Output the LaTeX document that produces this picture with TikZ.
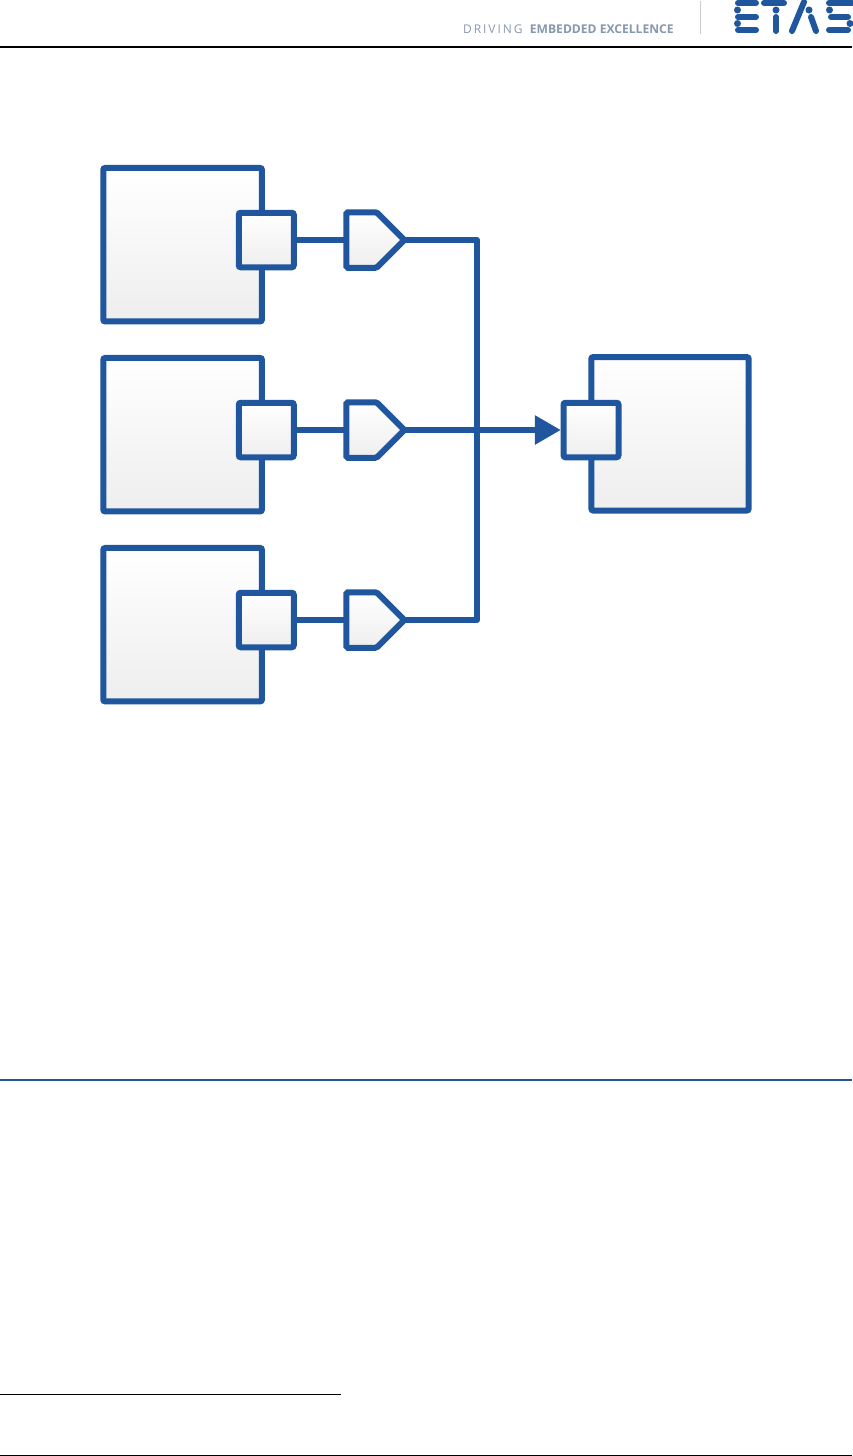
\documentclass[tikz,border=0pt]{standalone}
\usepackage{xcolor}
\usepackage{fontspec}
\setmainfont{Open Sans}
\definecolor{primary}{RGB}{31, 86, 158}
\definecolor{accent}{RGB}{238, 238, 238}
\definecolor{tagline}{RGB}{134, 152, 174}
\usepackage{tikz}
\usetikzlibrary{positioning,arrows.meta,shapes.symbols}

\begin{document}
\begin{tikzpicture}[
        x=1pt, y=-1pt,
        box/.style={rectangle, rounded corners=2pt, draw=primary, line width=6pt, top color=white, bottom color=accent, minimum width=158.7pt, minimum height=153.5pt, outer sep=0pt, inner sep=0pt},
        port/.style={rectangle, rounded corners=2pt, draw=primary, line width=6pt, top color=white, bottom color=accent, minimum width=55pt, minimum height=54.5pt, outer sep=0pt, inner sep=0pt},
        gate/.style={signal, signal to=east, signal pointer angle=90, rounded corners=1.5pt, draw=primary, line width=6pt, top color=white, bottom color=accent, minimum width=58pt, minimum height=55.5pt, outer sep=0pt, inner sep=0pt},
        wire/.style={primary, line width=6pt},
        arr/.style={wire, shorten >=2.7pt, -{Triangle[length=26pt, width=28pt]}},
        logo/.style={primary, line width=6pt, line cap=round},
        dot/.style={circle, fill=primary, inner sep=0pt, minimum size=7pt},
        rule/.style={black, line width=1.3pt}
    ]
    \useasboundingbox (0,0) rectangle (852,1456);
    % page furniture
    \draw[rule] (0,47) -- (852,47);
    \draw[primary, line width=2pt] (0,1080) -- (852,1080);
    \draw[rule] (0,1394.3) -- (341,1394.3);
    \draw[rule] (0,1455.3) -- (852,1455.3);
    \draw[black!20, line width=1pt] (700.5,1) -- (700.5,34);
    \node[anchor=base west, inner sep=0pt, text=tagline, font=\fontsize{12pt}{14pt}\selectfont\addfontfeatures{LetterSpace=16}] (drv) at (463,33.5) {DRIVING};
    \node[inner sep=0pt, text=tagline, font=\fontsize{12.1pt}{14pt}\selectfont\bfseries, right=7pt of drv.base east, anchor=base west] (exc) {EMBEDDED EXCELLENCE};
    % logo
    \draw[logo] (738,3) -- (756,3);
    \draw[logo] (738,17) -- (756,17);
    \draw[logo] (738,30) -- (756,30);
    \node[dot] (e1) at (737.5,10) {};
    \node[dot] (e2) at (737.5,23.5) {};
    \draw[logo] (764,3) -- (784,3);
    \node[dot] (t1) at (776,10) {};
    \draw[logo] (776,17) -- (776,31);
    \draw[logo] (792,31) -- (804,2);
    \node[dot] (a1) at (809,10) {};
    \draw[logo] (811,17) -- (816,31);
    \draw[logo] (829,3) -- (852,3);
    \node[dot] (s1) at (829.5,10) {};
    \draw[logo] (831,17) -- (848,17);
    \node[dot] (s2) at (850,23.5) {};
    \draw[logo] (829,30) -- (848,30);
    % sources
    \node[box] (src1) at (182.6,244.7) {};
    \node[box, below=36.5pt of src1] (src2) {};
    \node[box, below=36.5pt of src2] (src3) {};
    \node[port] (out1) at ([xshift=4.3pt, yshift=4.7pt]src1.east) {};
    \node[port] (out2) at ([xshift=4.3pt, yshift=4.7pt]src2.east) {};
    \node[port] (out3) at ([xshift=4.3pt, yshift=4.7pt]src3.east) {};
    \node[gate, right=52.7pt of out1] (sig1) {};
    \node[gate, right=52.7pt of out2] (sig2) {};
    \node[gate, right=52.7pt of out3] (sig3) {};
    % sink
    \node[box, minimum width=157.4pt] (dst) at (670,433.8) {};
    \node[port] (in) at (591,430) {};
    \coordinate (bus) at (477,430);
    \draw[wire] (out1) -- (sig1);
    \draw[wire] (out2) -- (sig2);
    \draw[wire] (out3) -- (sig3);
    \draw[wire, line join=round] (sig1.east) -| (bus);
    \draw[wire, line join=round] (sig3.east) -| (bus);
    \draw[arr] (sig2.east) -- (in.west);
    \end{tikzpicture}
\end{document}
